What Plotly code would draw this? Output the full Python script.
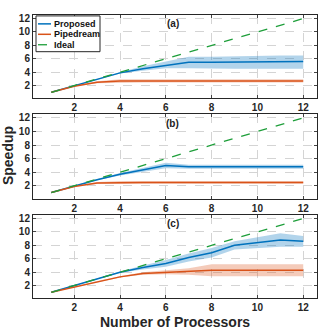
import plotly.graph_objects as go
from plotly.subplots import make_subplots

procs = [1, 2, 3, 4, 5, 6, 7, 8, 9, 10, 11, 12]
ideal = [1, 2, 3, 4, 5, 6, 7, 8, 9, 10, 11, 12]

# panel (a)
prop_a = [1, 2.0, 2.9, 3.9, 4.5, 5.0, 5.5, 5.5, 5.5, 5.6, 5.6, 5.6]
prop_a_lo = [1, 1.95, 2.8, 3.8, 4.2, 4.6, 4.6, 4.5, 4.5, 4.5, 4.5, 4.5]
prop_a_hi = [1, 2.05, 3.0, 4.0, 4.9, 5.6, 6.3, 6.3, 6.4, 6.5, 6.5, 6.5]
pipe_a = [1, 1.9, 2.5, 2.7, 2.7, 2.7, 2.7, 2.7, 2.7, 2.7, 2.7, 2.7]
pipe_a_lo = [1, 1.85, 2.35, 2.45, 2.45, 2.45, 2.45, 2.45, 2.45, 2.45, 2.45, 2.45]
pipe_a_hi = [1, 1.95, 2.65, 2.95, 2.95, 2.95, 2.95, 2.95, 2.95, 2.95, 2.95, 2.95]

# panel (b)
prop_b = [1, 2.0, 2.9, 3.7, 4.4, 5.0, 4.8, 4.8, 4.8, 4.8, 4.8, 4.8]
prop_b_lo = [1, 1.95, 2.8, 3.5, 4.1, 4.6, 4.5, 4.5, 4.5, 4.5, 4.5, 4.5]
prop_b_hi = [1, 2.05, 3.0, 3.9, 4.7, 5.4, 5.1, 5.1, 5.1, 5.1, 5.1, 5.1]
pipe_b = [1, 1.9, 2.4, 2.5, 2.5, 2.5, 2.5, 2.5, 2.5, 2.5, 2.5, 2.5]
pipe_b_lo = [1, 1.85, 2.25, 2.3, 2.3, 2.3, 2.3, 2.3, 2.3, 2.3, 2.3, 2.3]
pipe_b_hi = [1, 1.95, 2.55, 2.7, 2.7, 2.7, 2.7, 2.7, 2.7, 2.7, 2.7, 2.7]

# panel (c)
prop_c = [1, 2.0, 3.0, 4.0, 4.7, 5.3, 6.2, 6.9, 8.0, 8.4, 8.8, 8.6]
prop_c_lo = [1, 1.95, 2.9, 3.9, 4.4, 4.8, 5.6, 6.2, 7.4, 7.6, 7.8, 7.8]
prop_c_hi = [1, 2.05, 3.1, 4.1, 5.0, 5.8, 6.8, 7.6, 8.6, 9.2, 9.8, 9.4]
pipe_c = [1, 1.8, 2.6, 3.3, 3.8, 4.0, 4.1, 4.3, 4.3, 4.3, 4.3, 4.3]
pipe_c_lo = [1, 1.75, 2.5, 3.2, 3.6, 3.7, 3.6, 3.4, 3.4, 3.4, 3.4, 3.4]
pipe_c_hi = [1, 1.85, 2.7, 3.4, 4.0, 4.3, 4.6, 5.2, 5.2, 5.2, 5.2, 5.2]

panels = [
    ("(a)", prop_a, prop_a_lo, prop_a_hi, pipe_a, pipe_a_lo, pipe_a_hi),
    ("(b)", prop_b, prop_b_lo, prop_b_hi, pipe_b, pipe_b_lo, pipe_b_hi),
    ("(c)", prop_c, prop_c_lo, prop_c_hi, pipe_c, pipe_c_lo, pipe_c_hi),
]

legend_names = ["Proposed", "Pipedream", "Ideal"]

blue = "#0072BD"
orange = "#D95319"
green = "#1E9E3A"
dark = "#262626"

fig = make_subplots(rows=3, cols=1)

for i, (lab, pm, plo, phi, dm, dlo, dhi) in enumerate(panels):
    row = i + 1
    # shaded bands
    fig.add_trace(go.Scatter(x=procs, y=phi, mode="lines", line=dict(width=0),
                             showlegend=False, hoverinfo="skip"), row=row, col=1)
    fig.add_trace(go.Scatter(x=procs, y=plo, mode="lines", line=dict(width=0),
                             fill="tonexty", fillcolor="rgba(0,114,189,0.3)",
                             showlegend=False, hoverinfo="skip"), row=row, col=1)
    fig.add_trace(go.Scatter(x=procs, y=dhi, mode="lines", line=dict(width=0),
                             showlegend=False, hoverinfo="skip"), row=row, col=1)
    fig.add_trace(go.Scatter(x=procs, y=dlo, mode="lines", line=dict(width=0),
                             fill="tonexty", fillcolor="rgba(217,83,25,0.3)",
                             showlegend=False, hoverinfo="skip"), row=row, col=1)
    fig.add_trace(go.Scatter(x=procs, y=pm, mode="lines", name="Proposed",
                             line=dict(color=blue, width=1.5),
                             showlegend=False), row=row, col=1)
    fig.add_trace(go.Scatter(x=procs, y=dm, mode="lines", name="Pipedream",
                             line=dict(color=orange, width=1.5),
                             showlegend=False), row=row, col=1)
    fig.add_trace(go.Scatter(x=procs, y=ideal, mode="lines", name="Ideal",
                             line=dict(color=green, width=1.3, dash="dash"),
                             showlegend=False), row=row, col=1)
    fig.add_annotation(text="<b>" + lab + "</b>", x=6.3, y=11.2,
                       xref="x%d" % row if row > 1 else "x",
                       yref="y%d" % row if row > 1 else "y",
                       xanchor="center", yanchor="middle",
                       showarrow=False, font=dict(size=10, color="#222"))

ydoms = [[0.708, 0.961], [0.404, 0.660], [0.102, 0.355]]
for i in range(3):
    fig.update_xaxes(domain=[0.0988, 0.949], range=[0.2, 12.6],
                     tickvals=[2, 4, 6, 8, 10, 12],
                     ticks="inside", ticklen=3, mirror="allticks",
                     showline=True, linecolor=dark, linewidth=1,
                     showgrid=True, gridcolor="#d4d4d4", griddash="dash",
                     zeroline=False,
                     tickfont=dict(size=10, color=dark, weight="bold"),
                     row=i + 1, col=1)
    fig.update_yaxes(domain=ydoms[i], range=[0.1, 12.55],
                     tickvals=[2, 4, 6, 8, 10, 12],
                     ticks="inside", ticklen=3, mirror="allticks",
                     showline=True, linecolor=dark, linewidth=1,
                     showgrid=True, gridcolor="#d4d4d4", griddash="dash",
                     zeroline=False,
                     tickfont=dict(size=10, color=dark, weight="bold"),
                     row=i + 1, col=1)

# axis titles
fig.add_annotation(text="<b>Speedup</b>", x=8 / 334, y=1 - 155 / 332,
                   xref="paper", yref="paper", textangle=-90, showarrow=False,
                   xanchor="center", yanchor="middle",
                   font=dict(size=14, color=dark))
fig.add_annotation(text="<b>Number of Processors</b>", x=175 / 334, y=1 - 322 / 332,
                   xref="paper", yref="paper", showarrow=False,
                   xanchor="center", yanchor="middle",
                   font=dict(size=14, color=dark))

# compact legend box in panel (a)
fig.add_shape(type="rect", xref="paper", yref="paper",
              x0=36 / 334, x1=100 / 334, y0=1 - 50 / 332, y1=1 - 14 / 332,
              line=dict(color=dark, width=1), fillcolor="white", layer="above")
leg_styles = [dict(color=blue, width=1.5), dict(color=orange, width=1.5),
              dict(color=green, width=1.3, dash="dash")]
for k, name in enumerate(legend_names):
    yy = 1 - (22 + 10.5 * k) / 332
    fig.add_shape(type="line", xref="paper", yref="paper",
                  x0=38 / 334, x1=51 / 334, y0=yy, y1=yy,
                  line=leg_styles[k], layer="above")
    fig.add_annotation(text="<b>" + name + "</b>", x=52 / 334, y=yy,
                       xref="paper", yref="paper", xanchor="left", yanchor="middle",
                       showarrow=False, font=dict(size=9, color="#111"))

fig.update_layout(
    width=334, height=332,
    margin=dict(l=0, r=0, t=0, b=0),
    paper_bgcolor="white", plot_bgcolor="white",
    font=dict(family="Liberation Sans, Arial", color=dark),
    showlegend=False,
)

fig.write_html("out.html", config={"displayModeBar": False},
               post_script="document.body.style.margin='0';")
